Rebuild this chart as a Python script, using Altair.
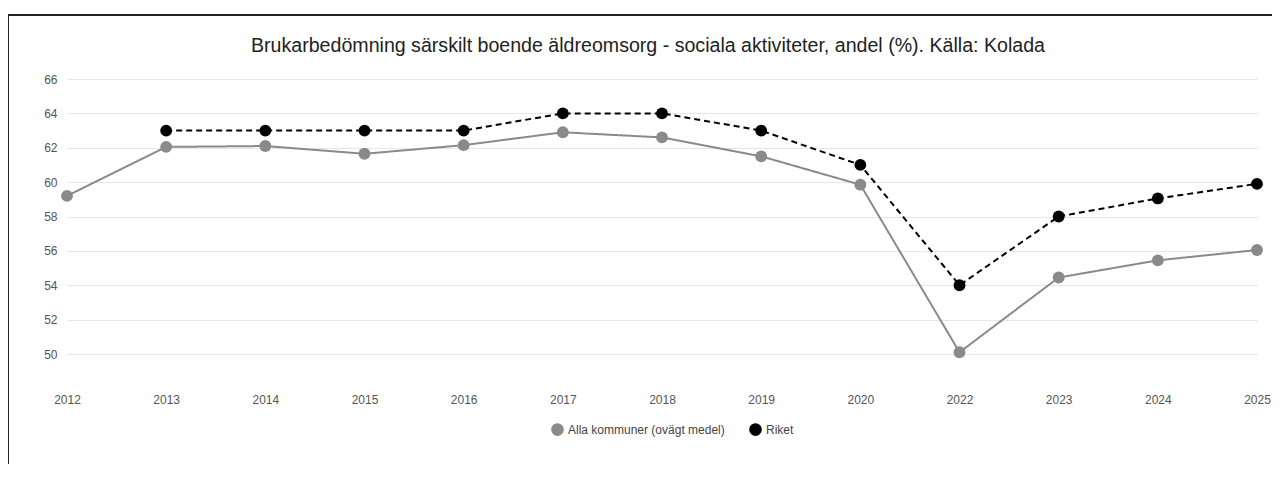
import altair as alt
import pandas as pd

years = ["2012", "2013", "2014", "2015", "2016", "2017", "2018", "2019", "2020",
         "2022", "2023", "2024", "2025"]
alla = [59.2, 62.05, 62.1, 61.65, 62.15, 62.9, 62.6, 61.5, 59.85, 50.1, 54.45, 55.45, 56.05]
riket_years = ["2013", "2014", "2015", "2016", "2017", "2018", "2019", "2020",
               "2022", "2023", "2024", "2025"]
riket = [63, 63, 63, 63, 64, 64, 63, 61, 54, 58, 59.05, 59.9]
series_names = ["Alla kommuner (ovägt medel)", "Riket"]
series_colors = ["#8a8a8a", "#000000"]
y_ticks = [50, 52, 54, 56, 58, 60, 62, 64, 66]
title_text = "Brukarbedömning särskilt boende äldreomsorg - sociala aktiviteter, andel (%). Källa: Kolada"

rows = [{"year": y, "value": v, "series": series_names[0]} for y, v in zip(years, alla)]
rows += [{"year": y, "value": v, "series": series_names[1]} for y, v in zip(riket_years, riket)]
df = pd.DataFrame(rows)

FONT = "Liberation Sans"

x_enc = alt.X("year:N", sort=years,
              scale=alt.Scale(type="point", padding=0, domain=years),
              axis=alt.Axis(title=None, labelAngle=0, domain=False, ticks=False, grid=False,
                            labelPadding=40, labelFontSize=12, labelColor="#555555",
                            labelFont=FONT))
y_enc = alt.Y("value:Q", scale=alt.Scale(domain=[50, 66], nice=False, zero=False),
              axis=alt.Axis(title=None, values=y_ticks, domain=False, ticks=False,
                            labelPadding=10, labelFontSize=12, labelColor="#555555",
                            labelFont=FONT, gridColor="#e6e6e6", gridWidth=1))
color_scale = alt.Scale(domain=series_names, range=series_colors)
legend = alt.Legend(title=None, orient="none", legendX=484, legendY=344,
                    direction="horizontal", symbolType="circle",
                    symbolSize=160, labelFontSize=12, labelColor="#444444",
                    labelFont=FONT, columnPadding=24, labelOffset=4,
                    padding=0, symbolStrokeWidth=0)

base = alt.Chart(df)

lines = base.mark_line(strokeWidth=2).encode(
    x=x_enc, y=y_enc,
    color=alt.Color("series:N", scale=color_scale, legend=legend),
    strokeDash=alt.StrokeDash("series:N",
                              scale=alt.Scale(domain=series_names, range=[[1, 0], [6, 4]]),
                              legend=None),
)

points = base.mark_point(filled=True, size=140, opacity=1).encode(
    x=x_enc, y=y_enc,
    color=alt.Color("series:N", scale=color_scale, legend=legend),
)

frame = alt.Chart(pd.DataFrame({"a": [0]})).mark_rect(
    fill=None, stroke="#222222", strokeWidth=2
).encode(
    x=alt.value(-59), y=alt.value(-64), x2=alt.value(1230), y2=alt.value(460)
)

title = alt.Chart(pd.DataFrame({"t": [title_text]})).mark_text(
    font=FONT, fontSize=19.6, color="#222222", align="center", baseline="middle"
).encode(
    text="t:N", x=alt.value(581), y=alt.value(-33)
)

chart = alt.layer(frame, title, lines, points).properties(
    width=1190, height=275,
    autosize=alt.AutoSizeParams(type="none"),
    padding={"left": 59, "top": 71, "right": 15, "bottom": 110},
).configure(background="white").configure_view(stroke=None)

chart.save("out.html", embed_options={"renderer": "svg", "actions": False})
